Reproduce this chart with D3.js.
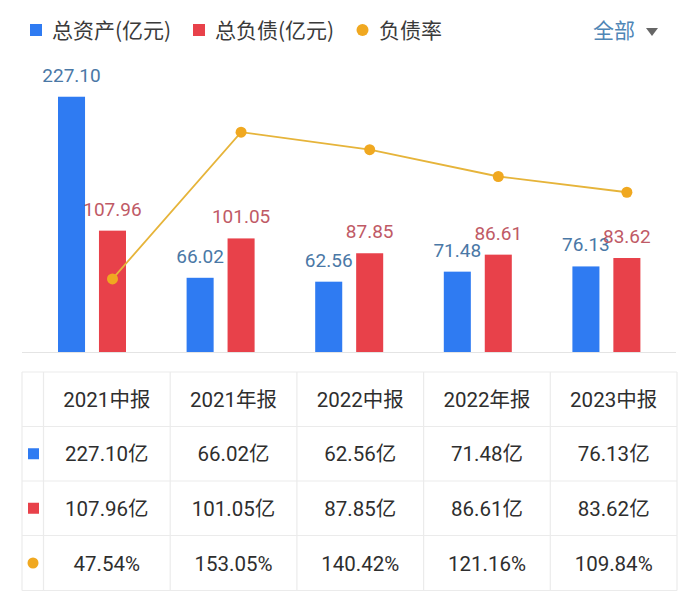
<!DOCTYPE html>
<html>
<head>
<meta charset="utf-8">
<script src="https://cdn.jsdelivr.net/npm/d3@7/dist/d3.min.js"></script>
<style>
  html, body { margin: 0; padding: 0; background: #fff; }
  svg { display: block; }
  text { font-family: Roboto, "Noto Sans CJK SC", "Noto Sans", sans-serif; }
</style>
</head>
<body>
<svg id="chart" width="700" height="604"></svg>
<script>
// ---- data ----
const categories = ["2021中报", "2021年报", "2022中报", "2022年报", "2023中报"];
const totalAssets = [227.10, 66.02, 62.56, 71.48, 76.13];
const totalLiabilities = [107.96, 101.05, 87.85, 86.61, 83.62];
const debtRatio = [47.54, 153.05, 140.42, 121.16, 109.84];
const seriesNames = ["总资产(亿元)", "总负债(亿元)", "负债率"];
const filterLabel = "全部";

// ---- styles ----
const BLUE = "#2f7bf2", RED = "#e8414a", GOLD = "#f0a820", LINE = "#e6b43a";
const BLUE_LBL = "#4a78a6", RED_LBL = "#bf5a66";
const CJK = '"Noto Sans CJK SC", sans-serif';

const svg = d3.select("#chart");

// ---- scales ----
const x0 = d3.scaleBand().domain(categories).range([28, 671]);
const x1 = d3.scaleBand().domain(["assets", "liab"]).range([30, 98]).paddingInner(0.34);
const y = d3.scaleLinear().domain([0, 250]).range([352, 71]);
const yRate = d3.scaleLinear().domain([-5, 197]).range([352, 71]);

// ---- legend ----
const lg = svg.append("g");
lg.append("rect").attr("x", 30).attr("y", 24).attr("width", 12).attr("height", 12).attr("fill", BLUE);
lg.append("text").attr("x", 52).attr("y", 38).attr("font-size", 21).attr("fill", "#3a3a3a")
  .style("font-family", CJK).text(seriesNames[0]);
lg.append("rect").attr("x", 193).attr("y", 24).attr("width", 12).attr("height", 12).attr("fill", RED);
lg.append("text").attr("x", 215).attr("y", 38).attr("font-size", 21).attr("fill", "#3a3a3a")
  .style("font-family", CJK).text(seriesNames[1]);
lg.append("circle").attr("cx", 362.5).attr("cy", 30).attr("r", 6).attr("fill", GOLD);
lg.append("text").attr("x", 379).attr("y", 38).attr("font-size", 21).attr("fill", "#3a3a3a")
  .style("font-family", CJK).text(seriesNames[2]);
lg.append("text").attr("x", 593).attr("y", 38).attr("font-size", 21).attr("fill", "#4f86b6")
  .style("font-family", CJK).text(filterLabel);
lg.append("path").attr("d", "M646,28 L658,28 L652,36 Z").attr("fill", "#666");

// ---- baseline ----
svg.append("line").attr("x1", 22).attr("x2", 676).attr("y1", 352.5).attr("y2", 352.5)
  .attr("stroke", "#e4e4e4").attr("stroke-width", 1);

// ---- bars ----
const bw = x1.bandwidth();
svg.append("g").selectAll("rect").data(categories).join("rect")
  .attr("x", (d) => x0(d) + x1("assets"))
  .attr("y", (d, i) => y(totalAssets[i]))
  .attr("width", bw)
  .attr("height", (d, i) => y(0) - y(totalAssets[i]))
  .attr("fill", BLUE);
svg.append("g").selectAll("rect").data(categories).join("rect")
  .attr("x", (d) => x0(d) + x1("liab"))
  .attr("y", (d, i) => y(totalLiabilities[i]))
  .attr("width", bw)
  .attr("height", (d, i) => y(0) - y(totalLiabilities[i]))
  .attr("fill", RED);

// ---- bar labels ----
svg.append("g").selectAll("text").data(categories).join("text")
  .attr("x", (d) => x0(d) + x1("assets") + bw / 2)
  .attr("y", (d, i) => y(totalAssets[i]) - 15)
  .attr("text-anchor", "middle").attr("font-size", 19).attr("fill", BLUE_LBL)
  .text((d, i) => totalAssets[i].toFixed(2));
svg.append("g").selectAll("text").data(categories).join("text")
  .attr("x", (d) => x0(d) + x1("liab") + bw / 2)
  .attr("y", (d, i) => y(totalLiabilities[i]) - 15)
  .attr("text-anchor", "middle").attr("font-size", 19).attr("fill", RED_LBL)
  .text((d, i) => totalLiabilities[i].toFixed(2));

// ---- ratio line ----
const lx = (d) => x0(d) + x1("liab") + bw / 2;
const line = d3.line().x((d) => lx(d)).y((d, i) => yRate(debtRatio[i]));
svg.append("path").datum(categories).attr("d", line)
  .attr("fill", "none").attr("stroke", LINE).attr("stroke-width", 1.8);
svg.append("g").selectAll("circle").data(categories).join("circle")
  .attr("cx", (d) => lx(d)).attr("cy", (d, i) => yRate(debtRatio[i]))
  .attr("r", 5.5).attr("fill", GOLD);

// ---- table ----
const tx = d3.scaleBand().domain(categories).range([43.5, 677]);
const rowY = [372, 426.5, 481, 535.5, 590.5];
const tg = svg.append("g");
const gridColor = "#ebebeb";
rowY.forEach((ry) => {
  tg.append("line").attr("x1", 22).attr("x2", 677).attr("y1", ry).attr("y2", ry)
    .attr("stroke", gridColor).attr("stroke-width", 1.2);
});
const vxs = [22, 43.5].concat(categories.map((c) => tx(c) + tx.bandwidth()));
vxs.forEach((vx) => {
  tg.append("line").attr("x1", vx).attr("x2", vx).attr("y1", rowY[0]).attr("y2", rowY[4])
    .attr("stroke", gridColor).attr("stroke-width", 1.2);
});
const rowMid = (r) => (rowY[r] + rowY[r + 1]) / 2;
tg.append("rect").attr("x", 28).attr("y", rowMid(1) - 5.5).attr("width", 11).attr("height", 11).attr("fill", BLUE);
tg.append("rect").attr("x", 28).attr("y", rowMid(2) - 5.5).attr("width", 11).attr("height", 11).attr("fill", RED);
tg.append("circle").attr("cx", 33).attr("cy", rowMid(3)).attr("r", 5.5).attr("fill", GOLD);

const rows = [
  categories.map((c) => c),
  totalAssets.map((v) => v.toFixed(2) + "亿"),
  totalLiabilities.map((v) => v.toFixed(2) + "亿"),
  debtRatio.map((v) => v.toFixed(2) + "%")
];
rows.forEach((vals, r) => {
  tg.append("g").selectAll("text").data(vals).join("text")
    .attr("x", (d, i) => tx(categories[i]) + tx.bandwidth() / 2)
    .attr("y", rowMid(r) + 7.5)
    .attr("text-anchor", "middle").attr("font-size", 20.5).attr("fill", "#2e2e2e")
    .text((d) => d);
});
</script>
</body>
</html>
